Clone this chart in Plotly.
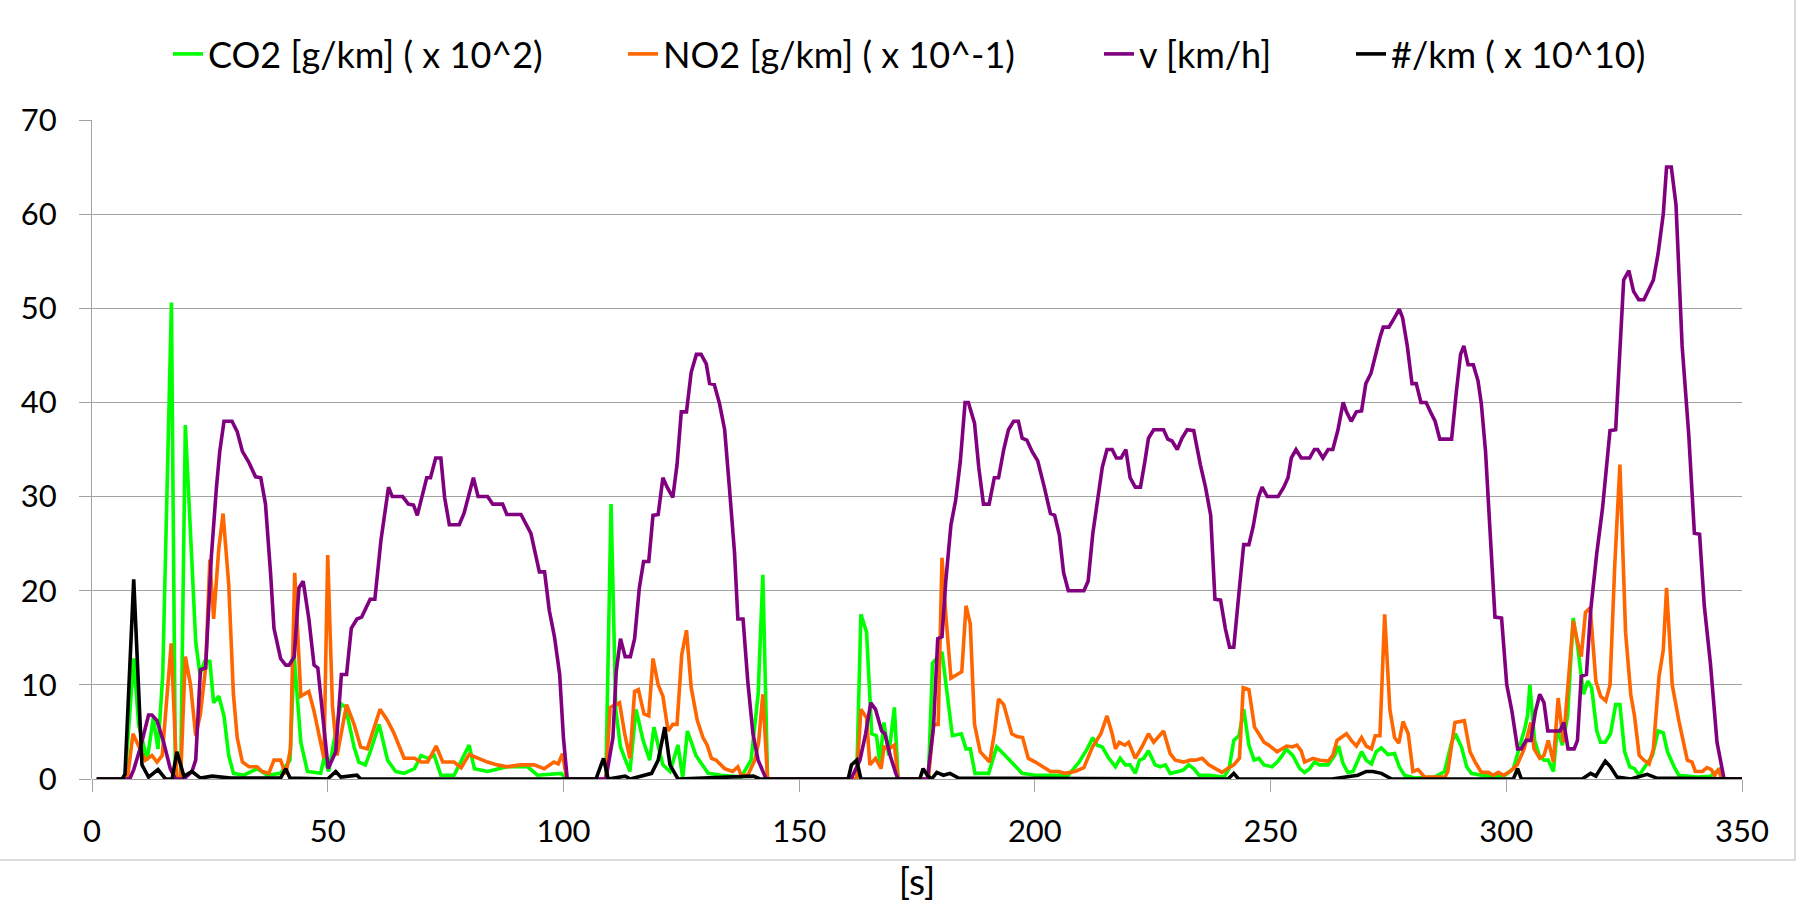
import plotly.graph_objects as go

# ---------------- data (time in s) ----------------
co2_t = [1, 7, 8.85, 9.9, 11.7, 13, 14, 15, 16.85, 17.7, 18.8, 19.8, 22, 22.9, 23.9, 25, 25.8, 26.9, 28, 29, 30,
         32.2, 35, 37.2, 40, 42, 42.9, 44.3, 45.7, 48.5, 49.2, 50.2, 51.5, 52.8, 53.8, 55.6, 56.6, 58, 59.1, 60.9,
         62.7, 64.4, 66.2, 68.4, 69.8, 71.2, 72.6, 74, 76.8, 80, 81.1, 83.9, 88, 92.4, 94.5, 99.5, 100.7, 109,
         110.1, 111.1, 112.1, 114.1, 115.4, 116.9, 118.3, 119.2, 120.4, 121.1, 122.6, 124.3, 125.3, 126.3, 128.1,
         129.5, 130.7, 133.5, 137.7, 139.8, 141.3, 142.3, 143.3, 162.2, 163.1, 164.3, 165.4, 166.4, 167.1, 168,
         169, 170.2, 171, 177.4, 178.3, 180.3, 181.7, 182.5, 184.4, 185.4, 186.3, 187.3, 190.2, 191.9, 193.7,
         195.5, 197.3, 200.1, 207.1, 209.4, 211.1, 212.3, 213.2, 214.3, 215.7, 217.1, 218.1, 219.2, 220.2, 221.3,
         222.2, 223.1, 224.1, 225.5, 226.6, 227.7, 228.7, 230.5, 231.6, 232.6, 233.7, 234.8, 236.9, 240.1, 241.2,
         242.2, 243.3, 244.3, 245.4, 246.5, 247.5, 248.6, 250.3, 251.4, 252.5, 253.3, 254.7, 256.2, 257.2, 258.3,
         259.3, 260.4, 262.2, 263.6, 264.4, 265.4, 266.4, 267.5, 268.4, 269.3, 270.3, 271.4, 272.4, 273.5, 274.9,
         276.3, 277.3, 278.4, 280.6, 284.8, 286.9, 288.4, 289.2, 290.5, 291.6, 292.6, 294.7, 296.9, 299.7, 301.5,
         302.7, 303.9, 304.5, 305, 306, 307, 308, 308.9, 310, 310.8, 311.9, 313, 314.2, 315.1, 316.4, 317.3, 318.1,
         319.2, 320, 321, 322.1, 323.2, 324.1, 325.1, 326.2, 327.2, 328.2, 329.6, 331, 332.2, 333.3, 334.2, 335.6,
         336.6, 340.5, 343.3, 345.1, 345.8, 350]
co2_v = [0, 0, 12.8, 5.8, 2.0, 6.5, 3.2, 11, 50.6, 0.1, 0.1, 37.6, 14.6, 11.1, 12.5, 12.5, 8.1, 8.8, 6.7, 2.5, 0.6,
         0.4, 1.1, 0.4, 0.6, 2.0, 13, 3.9, 0.8, 0.6, 2.2, 0.8, 4.5, 8.0, 7.6, 3.4, 1.8, 1.5, 3.0, 5.8,
         2.0, 0.8, 0.6, 1.1, 2.5, 2.2, 2.5, 0.4, 0.4, 3.6, 1.1, 0.8, 1.3, 1.3, 0.4, 0.6, 0, 0,
         29.2, 7.4, 3.4, 0.8, 7.4, 4.1, 2.0, 5.5, 2.9, 1.5, 0.8, 3.6, 0.1, 5.1, 2.5,
         1.5, 0.6, 0.4, 0.2, 2.0, 9.0, 21.7, 0, 0, 17.5, 15.6, 4.8, 4.6, 1.8, 6.0,
         2.5, 7.6, 0, 0, 12.3, 13.5, 7.4, 4.6, 4.8, 3.2, 3.2, 0.6, 0.6, 3.4, 2.5,
         1.5, 0.6, 0.4, 0.4, 1.8, 3.2, 4.4, 3.6, 3.4, 2.2, 1.3, 2.2, 1.5, 1.5, 0.6,
         2.0, 2.2, 3.0, 1.5, 1.3, 1.5, 0.6, 0.8, 1.0, 1.5, 1.1, 0.4, 0.4, 0.2, 1.1,
         4.1, 4.6, 7.4, 3.6, 2.0, 2.2, 1.5, 1.3, 1.8, 2.5, 3.2, 2.5, 1.1, 0.7, 1.1,
         1.8, 1.5, 1.5, 2.5, 3.5, 1.6, 0.7, 0.8, 1.8, 2.9, 2.0, 1.6, 2.9, 3.3, 2.6,
         2.7, 1.3, 0.4, 0.1, 0.2, 0.8, 3.9, 4.8, 3.4, 1.3, 0.6, 0.4, 0.3, 0.4, 1.1,
         3.2, 5.3, 6.7, 10, 4.1, 2.5, 2.0, 2.0, 0.8, 5.3, 3.6, 6.7, 17.1, 14.2, 9.0, 10.4, 9.7,
         5.1, 3.9, 3.9, 4.8, 7.9, 7.9, 2.9, 1.3, 1.1, 0.4, 1.5, 2.5, 5.1, 4.9, 2.9, 1.3,
         0.4, 0.2, 0.3, 1.0, 0, 0]

no2_t = [1, 7.5, 8.7, 9.9, 11.3, 12.7, 13.8, 14.9, 16.8, 18, 18.8, 19.8, 20.9, 22, 23, 24.1, 25, 25.8, 26.9, 27.8,
         29, 30, 30.8, 31.9, 33.3, 35, 36.1, 37.5, 38.6, 40, 41.1, 42.1, 43, 44.3, 46, 47.1, 48.5, 49.2, 50, 51,
         52, 54, 55.6, 57, 58.4, 61.1, 62.7, 64.1, 66.2, 68.4, 69.8, 71.2, 73, 74.4, 76.8, 78.3, 80, 81.8, 83.9,
         86, 88, 90.9, 93.8, 95.9, 98, 98.9, 99.8, 100.7, 109, 109.9, 111.9, 113, 114.1, 115.1, 115.9, 117.1,
         118.1, 119, 120.1, 121.1, 122.2, 123.2, 124.1, 125.1, 126.1, 127.1, 128.4, 129.6, 130.5, 131.4, 132.4,
         134.2, 135.9, 137, 137.7, 139.1, 140.6, 141.4, 142.3, 143.3, 162.2, 163.1, 164.3, 165, 166.2, 167.4,
         168, 169, 170.2, 171, 177.4, 178.5, 179.5, 180.3, 181.1, 182.2, 184.5, 185.4, 186.3, 187.2, 188.4,
         190.4, 191.4, 192.3, 193.4, 195.1, 196.2, 197.4, 198.6, 200.1, 201.6, 203.3, 205, 206.4, 208.5, 210.4,
         212.2, 214, 215.3, 216.4, 217.1, 217.9, 219.1, 219.9, 221.3, 222.7, 224.1, 225.2, 227.3, 228.7, 229.8,
         231.6, 233, 234, 235.5, 236.9, 238.3, 239.7, 240.8, 242.2, 243.4, 244.2, 245.4, 246.6, 247.5, 248.6,
         249.6, 251.4, 253.4, 254.6, 255.6, 256.5, 257.2, 259, 260.4, 262.2, 263.2, 264.1, 266.1, 267.1, 268.2,
         269.3, 270.3, 271.4, 272.2, 273.2, 274.2, 275.3, 276.3, 277.2, 278.1, 279.2, 280.2, 281.3, 282.7, 287,
         287.6, 289.1, 291.1, 292.3, 293.4, 294.7, 296.2, 297.2, 298.3, 299.4, 300.8, 302.3, 303.8, 305.2, 305.9,
         307.1, 308, 308.9, 310, 311, 312.1, 313.1, 314.2, 315.1, 315.9, 316.8, 317.8, 319, 320, 321.1, 322, 323,
         324.1, 325.3, 326.4, 327.2, 328.2, 329.2, 330.3, 331.2, 332.4, 333.3, 334, 335.2, 336.6, 338.4, 339.4,
         340.1, 341.6, 342.6, 343.5, 344.2, 345.1, 345.6, 350]
no2_v = [0, 0, 4.8, 3.4, 2.0, 2.5, 1.8, 2.5, 14.4, 0.1, 0.1, 13, 10, 4.6, 6.9, 11.8, 23.3, 17, 24.5, 28.2,
         20.7, 9.0, 4.4, 1.8, 1.3, 1.3, 0.8, 0.6, 2.0, 2.0, 0.5, 3.2, 21.9, 8.8, 9.3, 7.2, 3.9, 2.2, 23.8, 7.8,
         2.5, 7.9, 5.8, 3.4, 3.2, 7.4, 6.2, 4.8, 2.2, 2.2, 1.8, 1.8, 3.5, 1.8, 1.8, 1.2, 2.6, 2.2, 1.8,
         1.5, 1.3, 1.5, 1.5, 1.1, 1.8, 1.6, 2.7, 0, 0, 7.6, 8.1, 4.8, 2.2, 9.3, 9.5, 6.9,
         6.7, 12.8, 10, 8.8, 5.1, 5.8, 5.8, 13.2, 15.8, 9.7, 6.2, 4.4, 3.6, 2.2, 2.0,
         1.1, 0.8, 1.3, 0.4, 0.4, 2.0, 3.9, 9.0, 0, 0, 7.4, 6.5, 1.5, 2.2, 1.1,
         3.4, 3.2, 3.6, 0, 0, 5.8, 5.8, 23.5, 17.5, 10.7, 11.4, 18.4, 16.5, 5.8, 2.9,
         1.8, 4.8, 8.5, 7.9, 4.8, 4.5, 4.4, 2.2, 1.8, 1.3, 0.8, 0.8, 0.6, 0.8, 1.2,
         3.4, 4.8, 6.7, 4.8, 3.2, 3.9, 3.6, 3.9, 2.2, 3.4, 4.8, 3.9, 5.1, 2.7, 2.0,
         1.8, 2.0, 2.0, 2.2, 1.5, 1.1, 0.7, 1.1, 1.5, 2.2, 9.7, 9.5, 5.5, 4.8, 3.9,
         3.6, 2.9, 3.5, 3.4, 3.6, 3.0, 1.8, 2.2, 2.0, 1.9, 2.5, 4.1, 4.8, 4.1, 3.5,
         4.4, 3.5, 3.2, 4.6, 4.6, 17.5, 7.4, 4.4, 3.8, 6.1, 4.8, 0.8, 1.0, 0.2, 0.2,
         0.8, 6.0, 6.2, 2.9, 1.8, 0.7, 0.7, 0.4, 0.7, 0.4, 0.8, 1.5, 3.2, 6.0, 3.2,
         2.2, 2.5, 4.1, 1.8, 8.6, 3.9, 10, 16.8, 14.6, 13, 17.7, 18.2, 10.4, 8.8, 8.3, 10, 22.6,
         33.4, 15.6, 9.0, 6.7, 2.5, 2.0, 1.6, 3.2, 10.9, 13.7, 20.3, 10, 6.2, 2.0, 1.8,
         0.8, 0.8, 1.2, 1.0, 0.4, 1.1, 0, 0]

v_t = [1, 8, 8.85, 10.3, 12, 12.7, 13.8, 15.2, 16.6, 17.7, 19.5, 21.2, 22, 23, 24.1, 25.3, 26.4, 27.1, 28, 29.7,
       30.8, 31.9, 33.3, 34.7, 35.8, 36.8, 37.9, 38.6, 40, 41.1, 41.8, 42.9, 43.9, 44.8, 46, 47.1, 47.9, 48.9,
       50.1, 51.7, 52.9, 54, 55, 56.2, 57.2, 59, 60, 61.3, 62.9, 63.7, 65.9, 67.1, 68.2, 69, 71, 71.8, 72.9, 74,
       74.8, 75.8, 77.9, 78.9, 80, 80.9, 81.9, 83.9, 85, 87.1, 88, 91, 93.1, 94, 94.9, 96, 97, 98.1, 99.2, 100,
       100.8, 109, 110.5, 111.2, 112.1, 113.1, 114.2, 115.1, 116.1, 117, 118.1, 119, 120.1, 121.1, 122, 123.2,
       124.1, 125, 126.1, 127.1, 128.2, 129.2, 130.3, 131, 132, 133.1, 134.2, 135.2, 136.3, 137, 138.1, 139.1,
       140.2, 141.3, 143, 161, 162.9, 164.1, 165.2, 166.2, 167.5, 168.2, 169.3, 170.5, 171, 177.2, 178.5, 179.4,
       180.3, 181.1, 182.2, 183.2, 184.2, 185.2, 185.9, 187.2, 188.1, 189.1, 190.3, 191.4, 192.3, 193.4, 194.4,
       195.5, 196.5, 197.3, 198.3, 199.4, 200.6, 202, 203.3, 204.2, 205.2, 206.1, 207.1, 210.4, 211.3, 212.3,
       213.2, 214.3, 215.3, 216.4, 217.3, 218.3, 219.3, 220.2, 221.3, 222.4, 223.3, 224.1, 225.2, 227.3, 228.2,
       229.1, 230.2, 231.2, 232.3, 233.7, 235.1, 236.2, 237.3, 238.2, 239.4, 240.4, 241.3, 242.2, 243.3, 244.3,
       245.4, 246.3, 247.4, 248.2, 249.3, 251.6, 252.8, 253.7, 254.4, 255.4, 256.5, 258.3, 259.3, 260, 261.1,
       262.2, 263.2, 264.3, 265.4, 266.1, 267.1, 268.2, 269.3, 270.2, 271.3, 272.2, 273.2, 273.9, 275.1, 276.3,
       277.3, 278, 279, 280, 280.9, 281.9, 283, 283.9, 284.9, 285.9, 288.4, 289.4, 290.3, 291, 291.9, 293, 294,
       294.7, 295.6, 296.5, 297.6, 299, 300.1, 301.2, 302.4, 303.2, 304.2, 305.2, 306.2, 307.1, 308, 308.8,
       311.4, 312.2, 313.1, 314.4, 315.1, 315.9, 317, 317.9, 319.2, 320.4, 322, 323.2, 324.9, 326, 327, 328.1,
       329.2, 331.2, 332.2, 333.3, 334, 335, 336, 337.3, 338.7, 339.9, 341, 342, 343.3, 344.7, 345.6, 346.2, 350]
v_v = [0, 0, 1.0, 3.4, 6.8, 6.8, 6.2, 3.9, 1.1, 0, 0, 0.8, 2.0, 11.6, 11.8, 23.5, 31, 34.8, 38, 38,
       36.9, 34.8, 33.6, 32.1, 32, 29.2, 21.7, 16, 12.8, 12.1, 12.1, 13, 20.3, 21, 17, 12.1, 11.8, 6.7,
       1.1, 2.9, 11.1, 11.1, 16, 17, 17.2, 19.1, 19.1, 25.4, 31, 30, 30, 29.2, 29.1, 28, 32, 32, 34.1, 34.1,
       29.9, 27, 27, 28.2, 30.1, 32, 30, 30, 29.2, 29.2, 28.1, 28.1, 26.1, 24, 22, 22, 17.9, 15.1, 11.1, 4.4,
       0, 0, 4.4, 11.4, 14.9, 13, 13, 14.9, 20.3, 23.1, 23.1, 28, 28.1, 32, 31, 29.9,
       33.4, 39, 39, 43.2, 45.1, 45.1, 44.1, 42, 41.9, 39.9, 37.1, 31, 24, 17, 17, 10.4,
       4.8, 2.0, 0, 0, 2.0, 4.8, 8.1, 7.4, 5.1, 4.8, 2.5, 0.6, 0, 0, 5.5, 14.9,
       15.1, 21, 27, 29.6, 33.8, 40, 40, 37.8, 33.1, 29.2, 29.2, 32, 32, 35, 37.1,
       38, 38, 36.2, 36, 34.8, 33.8, 31, 28.2, 28, 25.9, 21.9, 20, 20, 21, 26.1,
       29.2, 33.1, 35, 35, 34.1, 34.1, 35, 32, 31, 31, 33.6, 36.2, 37.1, 37.1, 36.1,
       35.9, 35, 36.2, 37.1, 37, 33.4, 31, 28, 19.1, 19, 16, 14, 14, 19.8, 24.9,
       24.9, 26.8, 29.9, 31, 30, 30, 31, 32, 34.1, 35, 34.1, 34.1, 35, 35, 34.1,
       35, 35, 37.1, 40, 39, 38, 39, 39.1, 42, 43.1, 45.1, 46.9, 48, 48, 49,
       49.9, 49, 46, 42, 42, 40, 40, 39, 38, 36.1, 36.1, 41.1, 45.1, 46, 44, 44, 42.3,
       39.9, 34.8, 26.8, 17.2, 17.1, 10, 7.2, 3.2, 3.2, 4.1, 4.1, 7.2, 9.0, 8.1, 5.1,
       5.1, 6.0, 3.2, 3.2, 4.1, 10.9, 11.1, 17.9, 24, 28.7, 37, 37.1, 53, 54, 51.8, 50.9,
       50.9, 53, 55.8, 60, 65, 65, 61, 46, 36.6, 26.1, 26, 18.4, 12.3, 3.9, 1.5, 0, 0]

pn_t = [1, 6.4, 7, 8.85, 10.6, 12, 14, 15.6, 17, 18, 19.5, 21.2, 23, 25.5, 29.4, 40, 41.1, 42, 50, 51.7, 52.8,
        56.2, 57, 106.9, 108.5, 109.5, 113.1, 114.2, 118.7, 120.1, 121.5, 122.6, 124.3, 140.3, 141.7, 160.4,
        161.1, 162.2, 163.1, 175.6, 176.3, 177.2, 178.1, 179.2, 180.6, 182, 183.8, 241, 242.2, 243.2, 263,
        266.4, 268.5, 270.3, 271.7, 273.5, 275.7, 301.5, 302.4, 303.2, 316.1, 317.9, 319, 321, 322.1, 323.5,
        326.4, 329.9, 331.9, 350]
pn_v = [0, 0, 0.5, 21.2, 1.5, 0.2, 1.0, 0, 0, 2.9, 0.3, 0.8, 0.1, 0.3, 0.1, 0.1, 1.1, 0.1, 0, 0.8, 0.2,
        0.4, 0, 0, 2.2, 0, 0.3, 0, 0.6, 2.0, 5.5, 1.5, 0, 0.3, 0, 0,
        1.5, 2.0, 0, 0, 1.1, 0.4, 0, 0.7, 0.4, 0.6, 0.1, 0, 0.6, 0, 0,
        0.3, 0.4, 0.8, 0.8, 0.6, 0, 0, 1.1, 0, 0, 0.6, 0.3, 1.9, 1.3, 0.2,
        0, 0.5, 0.1, 0]

series_names = ["CO2 [g/km] ( x 10^2)", "NO2 [g/km] ( x 10^-1)", "v [km/h]", "#/km ( x 10^10)"]
series_colors = ["#00FF00", "#FF6600", "#800080", "#000000"]
x_ticks = [0, 50, 100, 150, 200, 250, 300, 350]
y_ticks = [0, 10, 20, 30, 40, 50, 60, 70]

# ---------------- figure ----------------
W, H = 1798, 903
ML, MR, MT, MB = 92, 56, 120, 124
PW, PH = W - ML - MR, H - MT - MB

FONT = "Lato, 'Open Sans', sans-serif"
grid_col = "#a3a3a3"


def px_x(p):
    return (p - ML) / PW


def px_y(p):
    return (H - MB - p) / PH


legend_ids = ["legend", "legend2", "legend3", "legend4"]
legend_text_x = [213, 668, 1144, 1396]   # where each legend text starts (px)

fig = go.Figure()
for (tx, vy), name, col, lid in zip([(co2_t, co2_v), (no2_t, no2_v), (v_t, v_v), (pn_t, pn_v)],
                                    series_names, series_colors, legend_ids):
    fig.add_trace(go.Scatter(x=tx, y=vy, mode="lines", name=name, legend=lid,
                             line=dict(color=col, width=3.6), hoverinfo="skip"))

legend_common = dict(orientation="h", xanchor="left", yanchor="middle", y=px_y(54),
                     font=dict(family=FONT, size=36, color="#000000"),
                     bgcolor="rgba(0,0,0,0)", borderwidth=0)
legends = {}
for lid, tx0 in zip(legend_ids, legend_text_x):
    legends[lid] = dict(legend_common, x=px_x(tx0 - 45))

fig.update_layout(
    width=W, height=H,
    margin=dict(l=ML, r=MR, t=MT, b=MB, autoexpand=False),
    paper_bgcolor="white", plot_bgcolor="white",
    font=dict(family=FONT, size=31, color="#000000"),
    showlegend=True,
    xaxis=dict(range=[0, 350], tickvals=x_ticks, showgrid=False, zeroline=False,
               showline=False, ticks="outside", ticklen=12, tickcolor=grid_col, tickwidth=1,
               tickfont=dict(family=FONT, size=31, color="#000000"), ticklabelstandoff=13,
               title=dict(text="[s]", font=dict(family=FONT, size=37, color="#000000"), standoff=20),
               automargin=False, fixedrange=True),
    yaxis=dict(range=[0, 70], tickvals=y_ticks, showgrid=True, gridcolor=grid_col, gridwidth=1,
               zeroline=True, zerolinecolor=grid_col, zerolinewidth=1,
               showline=True, linecolor=grid_col, linewidth=1,
               ticks="outside", ticklen=12, tickcolor=grid_col, tickwidth=1,
               tickfont=dict(family=FONT, size=31, color="#000000"), ticklabelstandoff=16,
               automargin=False, fixedrange=True),
    shapes=[dict(type="rect", xref="paper", yref="paper", layer="below",
                 x0=px_x(-4), x1=px_x(1795), y0=px_y(860), y1=px_y(-4),
                 line=dict(color="#d0d0d0", width=1.5), fillcolor="rgba(0,0,0,0)")],
    **legends,
)

fig.write_html("out.html", config={"displayModeBar": False},
               post_script="document.body.style.margin='0px';document.body.style.overflow='hidden';")
